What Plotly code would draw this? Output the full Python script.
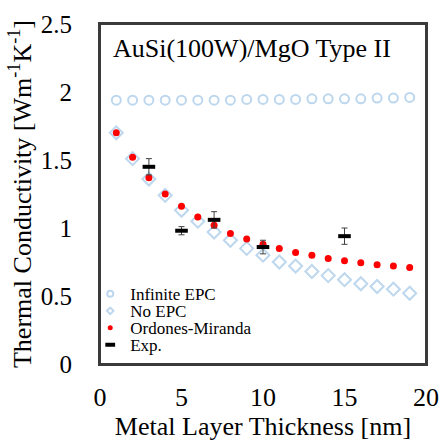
import plotly.graph_objects as go

# Metal layer thickness [nm] for model curves
thickness = list(range(1, 20))

# Thermal conductivity [W m^-1 K^-1]
infinite_epc = [1.94, 1.94, 1.94, 1.94, 1.94, 1.94, 1.94, 1.94, 1.945, 1.945,
                1.945, 1.945, 1.95, 1.95, 1.95, 1.95, 1.955, 1.955, 1.96]
no_epc = [1.70, 1.51, 1.36, 1.24, 1.13, 1.05, 0.97, 0.91, 0.85, 0.80,
          0.75, 0.72, 0.68, 0.65, 0.62, 0.59, 0.57, 0.55, 0.52]
ordones_miranda = [1.70, 1.52, 1.37, 1.25, 1.16, 1.08, 1.02, 0.96, 0.92, 0.88,
                   0.85, 0.82, 0.80, 0.775, 0.76, 0.745, 0.73, 0.72, 0.71]

# Experimental data
exp_thickness = [3, 5, 7, 10, 15]
exp_k = [1.45, 0.98, 1.06, 0.86, 0.94]
exp_err = [0.06, 0.03, 0.06, 0.05, 0.06]

x_ticks = [0, 5, 10, 15, 20]
y_ticks = [0, 0.5, 1, 1.5, 2, 2.5]
y_tick_text = ["0", "0.5", "1", "1.5", "2", "2.5"]

serif = "Liberation Serif"
light_blue = "#BDD7EE"
frame_color = "#3A3A3A"
big = 26

fig = go.Figure()

fig.add_trace(go.Scatter(
    x=thickness, y=infinite_epc, mode="markers", name="Infinite EPC",
    showlegend=False,
    marker=dict(symbol="circle-open", size=9, color=light_blue,
                line=dict(width=2, color=light_blue)),
))
fig.add_trace(go.Scatter(
    x=thickness, y=no_epc, mode="markers", name="No EPC", showlegend=False,
    marker=dict(symbol="diamond-open", size=10, color=light_blue,
                line=dict(width=2, color=light_blue)),
))
fig.add_trace(go.Scatter(
    x=thickness, y=ordones_miranda, mode="markers", name="Ordones-Miranda",
    showlegend=False,
    marker=dict(symbol="circle", size=7, color="#FF0000"),
))
fig.add_trace(go.Scatter(
    x=exp_thickness, y=exp_k, mode="markers", name="Exp.", showlegend=False,
    marker=dict(symbol="line-ew", size=9, color="black",
                line=dict(width=4, color="black")),
    error_y=dict(type="data", array=exp_err, visible=True,
                 color="#404040", thickness=1, width=3),
))

# Legend keys with compact markers, one small legend per row for tight spacing
legend_markers = [
    ("Infinite EPC", dict(symbol="circle-open", size=6, color=light_blue,
                          line=dict(width=2, color=light_blue))),
    ("No EPC", dict(symbol="diamond-open", size=5, color=light_blue,
                    line=dict(width=2, color=light_blue))),
    ("Ordones-Miranda", dict(symbol="circle", size=5, color="#FF0000")),
    ("Exp.", dict(symbol="line-ew", size=7, color="black",
                  line=dict(width=4, color="black"))),
]
legend_names = ["legend", "legend2", "legend3", "legend4"]
legend_rows_y = [0.205, 0.155, 0.105, 0.055]

for (name, marker), lg in zip(legend_markers, legend_names):
    fig.add_trace(go.Scatter(x=[-10], y=[-10], mode="markers", name=name,
                             marker=marker, showlegend=True, legend=lg))

legend_layout = {}
for lg, ly in zip(legend_names, legend_rows_y):
    legend_layout[lg] = dict(
        x=-0.03, y=ly, xanchor="left", yanchor="middle",
        bgcolor="rgba(0,0,0,0)", borderwidth=0,
        font=dict(family=serif, size=17, color="black"),
        itemwidth=30,
    )

fig.add_annotation(
    x=0.035, y=0.929, xref="paper", yref="paper",
    xanchor="left", yanchor="middle", showarrow=False,
    text="AuSi(100W)/MgO Type II",
    font=dict(family=serif, size=big, color="black"),
)

# Plot frame
fig.add_shape(type="rect", xref="paper", yref="paper", x0=0, y0=0, x1=1, y1=1,
              line=dict(color=frame_color, width=2), fillcolor="rgba(0,0,0,0)",
              layer="above")

fig.update_layout(
    template="none",
    width=441, height=442,
    margin=dict(l=100, r=15, t=24, b=78),
    paper_bgcolor="white", plot_bgcolor="white",
    font=dict(family=serif, size=big, color="black"),
    showlegend=True,
    **legend_layout,
)

fig.update_xaxes(
    range=[0, 20], tickmode="array", tickvals=x_ticks,
    showline=True, linecolor=frame_color, linewidth=2, mirror=True,
    showgrid=False, zeroline=False,
    ticks="outside", ticklen=9, tickcolor="rgba(0,0,0,0)",
    tickfont=dict(family=serif, size=big, color="black"),
    title=dict(text="Metal Layer Thickness [nm]",
               font=dict(family=serif, size=big, color="black"), standoff=4),
)
fig.update_yaxes(
    range=[0, 2.5], tickmode="array", tickvals=y_ticks, ticktext=y_tick_text,
    showline=True, linecolor=frame_color, linewidth=2, mirror=True,
    showgrid=False, zeroline=False,
    ticks="outside", ticklen=21, tickcolor="rgba(0,0,0,0)",
    tickfont=dict(family=serif, size=25, color="black"),
    title=dict(text="Thermal Conductivity [Wm<sup>-1</sup>K<sup>-1</sup>]",
               font=dict(family=serif, size=big, color="black"), standoff=2),
)

fig.write_html("out.html")
